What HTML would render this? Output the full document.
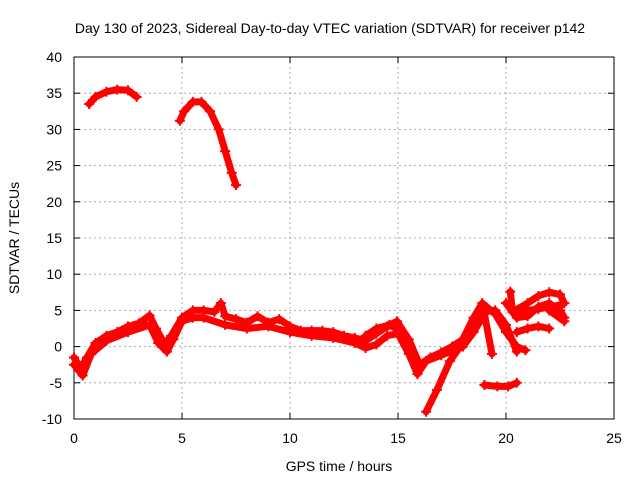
<!DOCTYPE html>
<html><head><meta charset="utf-8"><style>
body{margin:0;background:#fff;}
text{font-family:"Liberation Sans",sans-serif;font-size:14px;fill:#000;}
</style></head><body>
<svg id="chart" width="640" height="480">
<rect width="640" height="480" fill="#fff"/>
<text x="330" y="33" text-anchor="middle">Day 130 of 2023, Sidereal Day-to-day VTEC variation (SDTVAR) for receiver p142</text>
<g id="grid"></g><g id="axes"></g><g id="marks"></g>
<text x="339" y="471" text-anchor="middle">GPS time / hours</text>
<text transform="translate(19,238) rotate(-90)" text-anchor="middle">SDTVAR / TECUs</text>
</svg>
<script>
const xTicks=[0,5,10,15,20,25];
const yTicks=[-10,-5,0,5,10,15,20,25,30,35,40];
const trackA=[[0.7,33.5],[1.0,34.5],[1.5,35.2],[2.0,35.5],[2.5,35.4],[2.9,34.5]];
const trackB=[[4.9,31.2],[5.1,32.5],[5.5,33.8],[5.9,33.8],[6.3,32.5],[6.7,30],[7.0,27],[7.3,24],[7.5,22.3]];
const trackC=[[0,-1.5],[0.3,-3],[0.6,-1.5],[1.0,0.5],[1.5,1.5],[2.0,2],[2.5,2.8],[3.0,3.2],[3.5,4.3],[3.8,2.5],[4.2,0.3],[4.5,1.5],[5.0,4],[5.5,5],[6.0,5],[6.5,4.8],[6.8,6],[7.0,4.2],[7.5,3.8],[8.0,3.3],[8.5,4.2],[9.0,3.3],[9.5,3.8],[10.0,2.8],[10.5,2.2],[11,2.2],[11.5,2.2],[12,2],[12.5,1.5],[13,1.2],[13.5,0.8],[14,1.8],[14.5,2.8],[14.95,3.5],[15.5,1],[16,-2.5],[16.5,-1.5],[17,-0.8],[17.5,0],[18,1],[18.5,4],[18.9,6],[19.5,4.5],[20,2],[20.5,0],[20.9,-0.5]];
const trackC2=[[0,-2.5],[0.4,-4],[0.8,-1],[1.5,0.8],[2.5,2],[3.5,3],[3.9,0.5],[4.3,-0.7],[4.6,1],[5,3.5],[5.5,4],[6,4],[7,3],[8,2.5],[9,2.8],[10,2],[11,1.5],[12,1.2],[13,0.5],[13.5,-0.2],[14,0.3],[14.5,1.5],[15,1.8],[15.5,-1],[15.9,-3.8],[16.3,-2],[17,-1.2],[18,0],[18.5,2],[19,4.5],[19.35,-1]];
const trackC3=[[13.5,1.5],[14,2.5],[14.6,3],[15.2,2],[15.7,-1.5],[16.1,-2.5]];
const trackD=[[16.3,-9],[16.8,-6],[17.4,-2],[18,0.5],[18.5,3],[19,5],[19.5,5],[20,3],[20.5,-0.7]];
const trackE=[[19.0,-5.3],[19.6,-5.5],[20.1,-5.5],[20.5,-5.0]];
const trackF=[[20.2,7.6],[20.3,4.8],[21,6],[21.5,7],[22,7.5],[22.5,7.2],[22.7,6]];
const trackG=[[20,6],[20.5,4],[21,4.2],[21.5,5.5],[22,6],[22.5,5],[22.7,4]];
const trackH=[[20.5,2],[21,2.5],[21.5,2.8],[22,2.5]];
const trackI=[[22,5],[22.7,3.5]];
const trackJ=[[20.5,4.8],[21.5,5.2],[22.6,5.8]];
const tracks=[trackA,trackB,trackC,trackC2,trackC3,trackD,trackE,trackF,trackG,trackH,trackI,trackJ];
const X0=74,X1=614,Y0=419,Y1=57;
const sx=v=>X0+(v-0)/25*(X1-X0);
const sy=v=>Y0-(v+10)/50*(Y0-Y1);
const NS="http://www.w3.org/2000/svg";
function mk(tag,attrs,parent){const e=document.createElementNS(NS,tag);for(const k in attrs)e.setAttribute(k,attrs[k]);parent.appendChild(e);return e;}
const grid=document.getElementById('grid'),axes=document.getElementById('axes'),marks=document.getElementById('marks');
xTicks.forEach(t=>{const x=sx(t);
 if(t>0&&t<25){const l=mk('line',{x1:x,x2:x,y1:Y1,y2:Y0,stroke:'#999','stroke-dasharray':'2,3','stroke-width':0.8},grid);
 }
 mk('line',{x1:x,x2:x,y1:Y0,y2:Y0-6,stroke:'#000'},axes);mk('line',{x1:x,x2:x,y1:Y1,y2:Y1+6,stroke:'#000'},axes);
 const tx=mk('text',{x:x,y:Y0+24,'text-anchor':'middle'},axes);tx.textContent=t;
 });
yTicks.forEach(t=>{const y=sy(t);
 if(t>-10&&t<40){const l=mk('line',{x1:X0,x2:X1,y1:y,y2:y,stroke:'#999','stroke-dasharray':'2,3','stroke-width':0.8},grid);
 }
 mk('line',{x1:X0,x2:X0+6,y1:y,y2:y,stroke:'#000'},axes);mk('line',{x1:X1,x2:X1-6,y1:y,y2:y,stroke:'#000'},axes);
 const tx=mk('text',{x:X0-12,y:y+5,'text-anchor':'end'},axes);tx.textContent=t;
 });
const frame=mk('rect',{x:X0,y:Y1,width:X1-X0,height:Y0-Y1,fill:'none',stroke:'#000'},axes);

tracks.forEach((tr,i)=>{
 const pl=mk('polyline',{points:tr.map(p=>sx(p[0])+','+sy(p[1])).join(' '),fill:'none',stroke:'#f00','stroke-width':7,'stroke-linejoin':'round','stroke-linecap':'round'},marks);
 
 tr.forEach(p=>{const x=sx(p[0]),y=sy(p[1]);
  const m=mk('path',{d:`M${x-5},${y}H${x+5}M${x},${y-5}V${y+5}`,stroke:'#f00','stroke-width':2},marks);
  });
});
</script>
</body></html>
